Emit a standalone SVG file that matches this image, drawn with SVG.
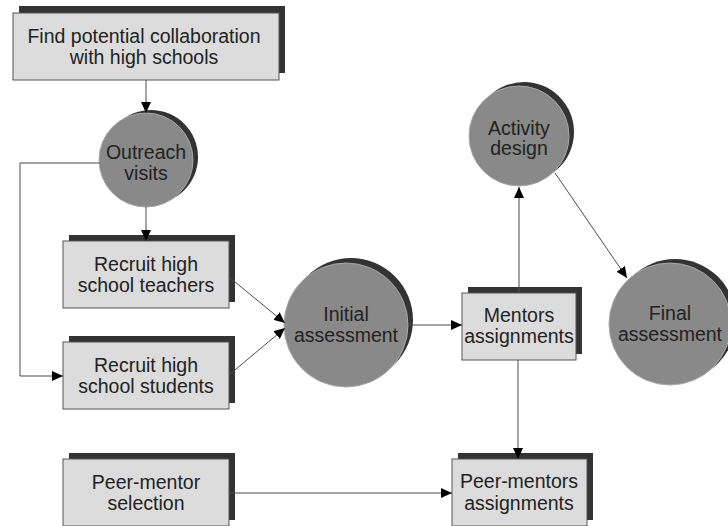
<svg xmlns="http://www.w3.org/2000/svg" width="728" height="526" viewBox="0 0 728 526">
  <style>
    .shadow { fill: #333333; }
    .box { fill: #dcdcdc; stroke: #555555; stroke-width: 1; }
    .circ { fill: #898989; stroke: #a8a8a8; stroke-width: 1; }
    .lbl { font-family: "Liberation Sans", Arial, sans-serif; font-size: 19.5px; fill: #222222; text-anchor: middle; }
    .conn { fill: none; stroke: #4a4a4a; stroke-width: 1; }
  </style>
  <defs>
    <marker id="arrow" markerUnits="userSpaceOnUse" markerWidth="12" markerHeight="10" refX="11" refY="5" orient="auto">
      <path d="M0,0 L11,5 L0,10 Z" fill="#000000"/>
    </marker>
  </defs>

  <rect width="728" height="526" fill="#ffffff"/>

  <!-- process boxes (rect with dark offset shadow) -->
  <g id="find-collaboration">
    <rect class="shadow" x="19" y="6" width="266" height="67"/>
    <rect class="box" x="13" y="13" width="266" height="67"/>
    <text class="lbl" x="144" y="43">Find potential collaboration</text>
    <text class="lbl" x="144" y="64">with high schools</text>
  </g>

  <g id="outreach-visits">
    <circle class="shadow" cx="151" cy="157" r="47"/>
    <circle class="circ" cx="146" cy="160" r="47"/>
    <text class="lbl" x="146" y="159">Outreach</text>
    <text class="lbl" x="146" y="180">visits</text>
  </g>

  <g id="recruit-teachers">
    <rect class="shadow" x="69" y="235" width="166" height="67"/>
    <rect class="box" x="63" y="241" width="166" height="67"/>
    <text class="lbl" x="146" y="271">Recruit high</text>
    <text class="lbl" x="146" y="292">school teachers</text>
  </g>

  <g id="recruit-students">
    <rect class="shadow" x="69" y="336" width="166" height="67"/>
    <rect class="box" x="63" y="342" width="166" height="67"/>
    <text class="lbl" x="146" y="372">Recruit high</text>
    <text class="lbl" x="146" y="393">school students</text>
  </g>

  <g id="initial-assessment">
    <circle class="shadow" cx="351" cy="320" r="62"/>
    <circle class="circ" cx="346" cy="325" r="62"/>
    <text class="lbl" x="346" y="321">Initial</text>
    <text class="lbl" x="346" y="342">assessment</text>
  </g>

  <g id="mentors-assignments">
    <rect class="shadow" x="468" y="287" width="114" height="67"/>
    <rect class="box" x="462" y="293" width="114" height="67"/>
    <text class="lbl" x="519" y="322">Mentors</text>
    <text class="lbl" x="519" y="343">assignments</text>
  </g>

  <g id="activity-design">
    <circle class="shadow" cx="524" cy="132" r="50"/>
    <circle class="circ" cx="519" cy="136" r="50"/>
    <text class="lbl" x="519" y="135">Activity</text>
    <text class="lbl" x="519" y="155">design</text>
  </g>

  <g id="final-assessment">
    <circle class="shadow" cx="675" cy="320" r="61"/>
    <circle class="circ" cx="670" cy="324" r="61"/>
    <text class="lbl" x="670" y="320">Final</text>
    <text class="lbl" x="670" y="341">assessment</text>
  </g>

  <g id="peer-mentor-selection">
    <rect class="shadow" x="69" y="453" width="166" height="67"/>
    <rect class="box" x="63" y="459" width="166" height="67"/>
    <text class="lbl" x="146" y="489">Peer-mentor</text>
    <text class="lbl" x="146" y="510">selection</text>
  </g>

  <g id="peer-mentors-assignments">
    <rect class="shadow" x="458" y="453" width="135" height="67"/>
    <rect class="box" x="452" y="459" width="135" height="67"/>
    <text class="lbl" x="519" y="488">Peer-mentors</text>
    <text class="lbl" x="519" y="510">assignments</text>
  </g>

  <!-- connectors -->
  <g id="connectors">
    <line class="conn" x1="146" y1="80" x2="146" y2="113" marker-end="url(#arrow)"/>
    <line class="conn" x1="146" y1="207" x2="146" y2="241" marker-end="url(#arrow)"/>
    <polyline class="conn" points="100,163 20,163 20,376 63,376" marker-end="url(#arrow)"/>
    <line class="conn" x1="229" y1="277" x2="285" y2="323" marker-end="url(#arrow)"/>
    <line class="conn" x1="229" y1="375" x2="285" y2="328" marker-end="url(#arrow)"/>
    <line class="conn" x1="408" y1="325" x2="462" y2="325" marker-end="url(#arrow)"/>
    <line class="conn" x1="519" y1="293" x2="519" y2="187" marker-end="url(#arrow)"/>
    <line class="conn" x1="555" y1="173" x2="627" y2="278" marker-end="url(#arrow)"/>
    <line class="conn" x1="518" y1="360" x2="518" y2="459" marker-end="url(#arrow)"/>
    <line class="conn" x1="229" y1="493" x2="452" y2="493" marker-end="url(#arrow)"/>
  </g>
</svg>
